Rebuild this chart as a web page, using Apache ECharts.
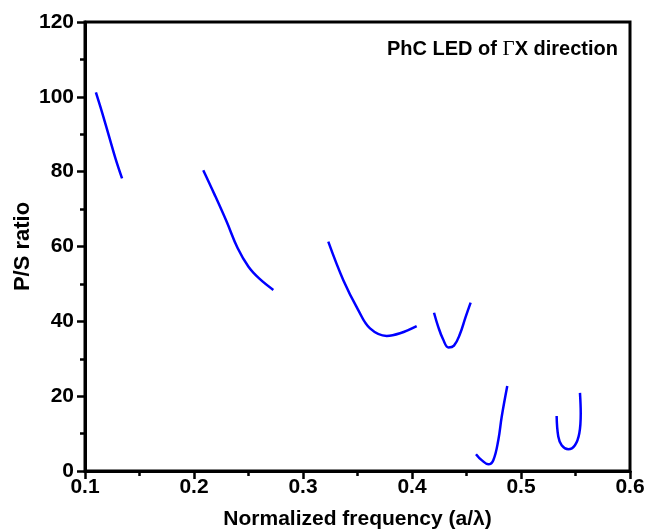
<!DOCTYPE html>
<html>
<head>
<meta charset="utf-8">
<script src="https://cdn.jsdelivr.net/npm/echarts@6/dist/echarts.min.js"></script>
<style>
  html, body { margin: 0; padding: 0; background: #fff; }
  #main { width: 650px; height: 529px; }
</style>
</head>
<body>
<div id="main"></div>
<script>
// curve pieces, [frequency, P/S ratio]
var band1 = [[0.110, 101.2], [0.116, 95.5], [0.122, 89.5], [0.128, 83.5], [0.134, 78.2]];
var band2 = [[0.2085, 80.4], [0.219, 73.8], [0.230, 66.6], [0.240, 59.6], [0.250, 54.6], [0.2600, 51.4], [0.2728, 48.4]];
var band3 = [[0.3232, 61.3], [0.337, 51.0], [0.3507, 43.0], [0.3615, 38.1], [0.3768, 36.1], [0.389, 36.8], [0.4043, 38.7]];
var band4 = [[0.4202, 42.3], [0.4240, 38.6], [0.4285, 35.2], [0.4335, 33.0], [0.4385, 33.5], [0.4440, 36.6], [0.4490, 41.0], [0.4538, 45.0]];
var band5 = [[0.4587, 4.5], [0.4639, 2.9], [0.470, 1.8], [0.4746, 2.9], [0.4792, 8.3], [0.4823, 14.5], [0.4874, 22.7]];
var band6 = [[0.5327, 14.7], [0.5342, 9.2], [0.5373, 6.9], [0.5434, 5.8], [0.5495, 6.9], [0.5535, 10.1], [0.5548, 15.4], [0.5541, 20.9]];

var bands = [band1, band2, band3, band4, band5, band6];

var myChart = echarts.init(document.getElementById('main'));

var series = [];
for (var i = 0; i < bands.length; i++) {
    series.push({
        type: 'line',
        data: bands[i],
        smooth: 0.4,
        showSymbol: false,
        silent: true,
        lineStyle: { color: '#0000ff', width: 2.5 }
    });
}

var option = {
    backgroundColor: '#fff',
    animation: false,
    textStyle: { fontFamily: 'Liberation Sans' },
    grid: {
        left: 85, right: 20, top: 22, bottom: 58,
        outerBoundsMode: 'none',
        show: true, borderColor: '#000', borderWidth: 3
    },
    title: {
        text: 'PhC LED of {g|Γ}X direction',
        right: 27, top: 34,
        textStyle: {
            fontFamily: 'Liberation Sans', fontWeight: 'bold', fontSize: 20, color: '#000',
            rich: {
                g: { fontFamily: 'Liberation Serif', fontSize: 21, fontWeight: 'normal', color: '#000' }
            }
        }
    },
    xAxis: {
        type: 'value',
        min: 0.1, max: 0.6, interval: 0.1,
        name: 'Normalized frequency (a/λ)',
        nameLocation: 'middle', nameGap: 38,
        nameMoveOverlap: false,
        nameTextStyle: { fontWeight: 'bold', fontSize: 21, color: '#000' },
        axisLine: { lineStyle: { color: '#000', width: 3 } },
        axisTick: { length: 8, lineStyle: { color: '#000', width: 2.5 } },
        minorTick: { show: true, splitNumber: 2, length: 5, lineStyle: { color: '#000', width: 2.5 } },
        axisLabel: { fontWeight: 'bold', fontSize: 21, color: '#000', margin: 6,
            formatter: function (v) { return v.toFixed(1); } },
        splitLine: { show: false }
    },
    yAxis: {
        type: 'value',
        min: 0, max: 120, interval: 20,
        name: 'P/S ratio',
        nameLocation: 'middle', nameGap: 51,
        nameMoveOverlap: false,
        nameTextStyle: { fontWeight: 'bold', fontSize: 22, color: '#000' },
        axisLine: { show: true, lineStyle: { color: '#000', width: 3 } },
        axisTick: { show: true, length: 8, lineStyle: { color: '#000', width: 2.5 } },
        minorTick: { show: true, splitNumber: 2, length: 5, lineStyle: { color: '#000', width: 2.5 } },
        axisLabel: { fontWeight: 'bold', fontSize: 21, color: '#000', margin: 11 },
        splitLine: { show: false }
    },
    series: series
};

myChart.setOption(option);
</script>
</body>
</html>
